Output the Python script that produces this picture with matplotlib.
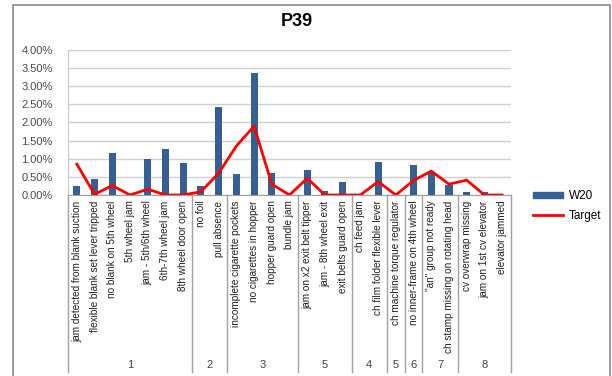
import numpy as np
import matplotlib.pyplot as plt
from matplotlib.patches import Rectangle
from matplotlib.lines import Line2D

plt.rcParams['font.family'] = ['Liberation Sans Narrow', 'Liberation Sans', 'DejaVu Sans']

categories = [
    "jam detected from blank suction", "flexible blank set lever tripped",
    "no blank on 5th wheel", "5th wheel jam", "jam - 5th/6th wheel",
    "6th-7th wheel jam", "8th wheel door open",
    "no foil", "pull absence",
    "incomplete cigarette pockets", "no cigarettes in hopper",
    "hopper guard open", "bundle jam",
    "jam on x2 exit belt tipper", "jam - 8th wheel exit", "exit belts guard open",
    "ch feed jam", "ch film folder flexible lever",
    "ch machine torque regulator",
    "no inner-frame on 4th wheel",
    "\"an\" group not ready", "ch stamp missing on rotating head",
    "cv overwrap missing", "jam on 1st cv elevator", "elevator jammed",
]
group_names = ["1", "2", "3", "5", "4", "5", "6", "7", "8"]
group_sizes = [7, 2, 4, 3, 2, 1, 1, 2, 3]

w20 = [0.25, 0.44, 1.17, 0.0, 0.99, 1.26, 0.89,
       0.25, 2.43,
       0.57, 3.37, 0.61, 0.0,
       0.69, 0.11, 0.35,
       0.0, 0.90,
       0.0,
       0.82,
       0.63, 0.28,
       0.09, 0.08, 0.0]
target = [0.85, 0.02, 0.26, 0.0, 0.16, 0.0, 0.0,
          0.09, 0.60,
          1.35, 1.90, 0.30, 0.0,
          0.46, 0.0, 0.0,
          0.0, 0.37,
          0.0,
          0.40,
          0.66, 0.30,
          0.41, 0.0, 0.0]

W, H = 612, 376
fig = plt.figure(figsize=(W / 100, H / 100), dpi=100)
ax = fig.add_axes([68 / W, 1 - 195 / H, (511 - 68) / W, (195 - 50) / H])

x = np.arange(len(categories))
ax.bar(x, w20, width=0.4, color='#365f94', zorder=2, label='W20')
ax.plot(x, target, color='#ff0000', lw=2, zorder=3, label='Target')

ax.set_xlim(-0.5, len(categories) - 0.5)
ax.set_ylim(0, 4.0)
ticks = np.arange(0, 4.01, 0.5)
ax.set_yticks(ticks)
ax.set_yticklabels([f"{v:.2f}%" for v in ticks], fontsize=8, color='#4a4a4a')
ax.yaxis.grid(True, color='#d0d0d0', lw=1)
ax.set_axisbelow(True)
ax.tick_params(axis='y', length=0, pad=11)

ax.set_xticks(x)
ax.set_xticklabels(categories, rotation=90, fontsize=7.2, color='#202020')
ax.tick_params(axis='x', length=0, pad=4)

for side in ['top', 'right']:
    ax.spines[side].set_visible(False)
ax.spines['left'].set_color('#c8c8c8')
ax.spines['bottom'].set_color('#a0a0a0')

# group separators and group names under the category labels
sep_bottom = -(372 - 195) / (195 - 50) * 4.0
bounds = np.concatenate([[0], np.cumsum(group_sizes)]) - 0.5
for b in bounds:
    ax.plot([b, b], [0, sep_bottom], color='#a0a0a0', lw=1, clip_on=False)
label_y = -(365 - 195) / (195 - 50) * 4.0
for name, lo, hi in zip(group_names, bounds[:-1], bounds[1:]):
    ax.text((lo + hi) / 2, label_y, name, ha='center', va='center',
            fontsize=8, color='#404040', clip_on=False)

fig.text(297 / W, 1 - 22 / H, "P39", ha='center', va='center',
         fontsize=13, fontweight='bold', family=['Liberation Sans', 'DejaVu Sans'])

handles = [Rectangle((0, 0), 1, 1, color='#365f94'),
           Line2D([0], [0], color='#ff0000', lw=2)]
fig.legend(handles, ['W20', 'Target'], loc='center left',
           bbox_to_anchor=(522 / W, 1 - 206 / H), frameon=False,
           fontsize=8.5, handlelength=2.6, handleheight=0.4,
           handletextpad=0.45, labelspacing=0.6)

fig.add_artist(Rectangle((13 / W, -0.01), (610 - 13) / W, 1 - 5 / H + 0.01,
                         transform=fig.transFigure, fill=False,
                         edgecolor='#8a8a8a', lw=1.2))

fig.savefig("out.png", dpi=100)
